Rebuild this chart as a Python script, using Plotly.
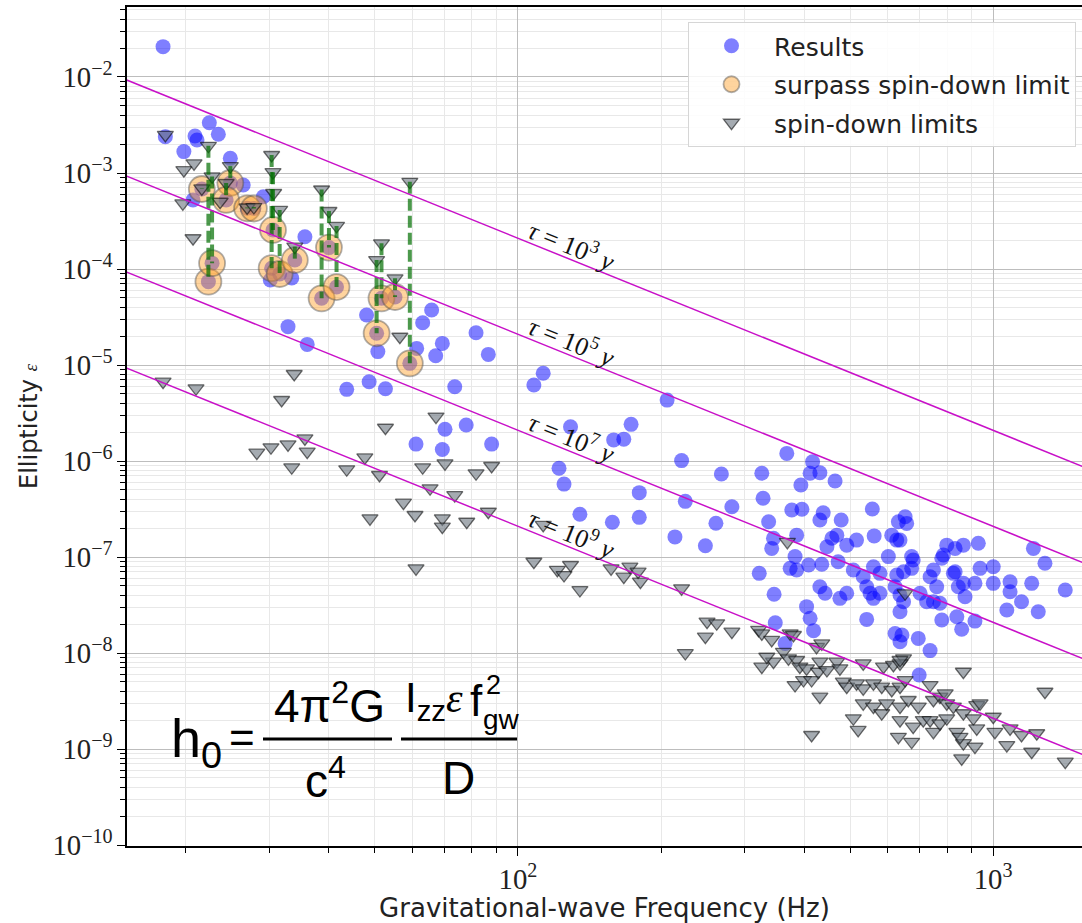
import numpy as np
import plotly.graph_objects as go

# ---- Search results: gravitational-wave frequency (Hz) and ellipticity upper limit ----
results_freq = [
    17.9, 22.4, 23.4, 20.9, 21.1, 19.8, 24.8, 18.1, 20.7, 26.4, 29.1, 35.6, 30.1, 33.4,
    48.0, 50.7, 32.8, 36.0, 63.0, 65.8, 61.2, 67.1, 69.3, 43.6, 48.6, 52.6, 81.6, 86.6,
    113, 108, 73.6, 206, 129, 173, 167, 159, 70.2, 77.8, 61.0, 69.3, 88.0, 122, 125, 221,
    268, 180, 225, 282, 135, 158, 180, 261, 214, 248,
    368, 326, 417, 412, 432, 394, 465, 328, 337, 377, 396, 439, 432, 479, 557, 653, 632, 658,
    386, 345, 342, 458, 469, 516, 492, 447, 562, 612, 627, 383, 374, 386, 409, 436, 472, 322,
    508, 533, 560, 602, 648, 679, 674, 578, 627, 749, 737, 761, 799, 786, 832, 866, 931, 825,
    866, 845, 916, 939, 1001, 1001, 1086, 1086, 1206, 1216, 1286, 1419, 1148, 1069, 1245,
    432, 443, 476, 492, 346, 542, 551, 560, 578, 622, 637, 648, 702, 725, 749, 773, 873, 780,
    839, 859, 916, 637, 542, 405, 412, 419, 348, 622, 643, 696, 365, 637, 737, 699, 780, 637,
    674, 832,
]
results_eps = [
    2.07e-2, 3.34e-3, 2.53e-3, 2.43e-3, 2.21e-3, 1.67e-3, 1.42e-3, 2.39e-3, 5.24e-4, 7.5e-4,
    5.66e-4, 2.17e-4, 7.67e-5, 8.06e-5, 3.32e-5, 1.38e-5, 2.51e-5, 1.64e-5, 2.76e-5, 3.74e-5,
    1.49e-5, 1.25e-5, 1.68e-5, 5.58e-6, 6.7e-6, 5.66e-6, 2.17e-5, 1.29e-5, 8.2e-6, 6.19e-6,
    5.94e-6, 4.31e-6, 2.27e-6, 2.41e-6, 1.69e-6, 1.66e-6, 2.14e-6, 2.37e-6, 1.50e-6, 1.32e-6,
    1.50e-6, 8.4e-7, 5.75e-7, 1.01e-6, 7.33e-7, 4.68e-7, 3.8e-7, 3.34e-7, 2.79e-7, 2.30e-7,
    2.59e-7, 2.25e-7, 1.62e-7, 1.31e-7,
    1.20e-6, 7.45e-7, 9.84e-7, 7.45e-7, 7.55e-7, 5.62e-7, 6.19e-7, 4.09e-7, 2.33e-7, 3.09e-7,
    3.14e-7, 2.89e-7, 2.43e-7, 2.43e-7, 3.16e-7, 2.63e-7, 2.33e-7, 2.24e-7, 1.69e-7, 1.57e-7,
    1.23e-7, 1.57e-7, 1.69e-7, 1.50e-7, 1.33e-7, 1.28e-7, 1.66e-7, 1.69e-7, 1.50e-7, 1.01e-7,
    7.62e-8, 7.33e-8, 8.26e-8, 8.4e-8, 8.93e-8, 6.76e-8, 7.33e-8, 6.24e-8, 7.93e-8, 1.01e-7,
    7.03e-8, 9.3e-8, 7.62e-8, 6.76e-8, 6.49e-8, 7.33e-8, 6.24e-8, 4.91e-8, 1.33e-7, 1.05e-7,
    1.23e-7, 1.33e-7, 1.39e-7, 6.76e-8, 5.32e-8, 4.91e-8, 5.32e-8, 7.62e-8, 7.93e-8, 5.32e-8,
    5.53e-8, 4.35e-8, 5.32e-8, 1.23e-7, 8.6e-8, 4.53e-8, 3.42e-8, 2.81e-8, 2.69e-8,
    4.91e-8, 4.19e-8, 3.71e-8, 4.19e-8, 4.09e-8, 4.91e-8, 4.19e-8, 3.71e-8, 4.19e-8, 4.91e-8,
    4.02e-8, 3.42e-8, 4.19e-8, 3.42e-8, 3.42e-8, 3.30e-8, 3.86e-8, 2.21e-8, 2.39e-8, 1.77e-8,
    2.15e-8, 2.69e-8, 2.24e-8, 3.04e-8, 2.30e-8, 1.71e-8, 2.07e-8, 1.60e-8, 1.54e-8, 1.42e-8,
    1.26e-8, 1.31e-8, 1.06e-8, 5.9e-9, 9.7e-8, 1.50e-7, 1.01e-7, 7.03e-8,
]

# ---- Results below the spin-down limit, with that pulsar's spin-down limit ----
surpass_freq = [22.3, 22.7, 21.6, 24.8, 24.3, 26.9, 27.8, 30.5, 30.3, 31.5, 33.9, 38.6,
                40.0, 41.5, 51.6, 50.4, 55.1, 59.2]
surpass_eps = [7.38e-5, 1.15e-4, 6.81e-4, 7.87e-4, 5.24e-4, 4.29e-4, 4.27e-4, 2.55e-4,
               1.02e-4, 8.87e-5, 1.24e-4, 4.95e-5, 1.67e-4, 6.49e-5, 4.95e-5, 2.14e-5,
               5.11e-5, 1.04e-5]
surpass_limit_eps = [1.92e-3, 9.2e-4, 6.9e-4, 1.18e-3, 7.87e-4, 4.37e-4, 4.42e-4, 1.02e-3,
                     1.54e-3, 4.12e-4, 1.71e-4, 6.73e-4, 4.02e-4, 2.81e-4, 1.85e-4, 1.24e-4,
                     8.0e-5, 8.1e-4]

# ---- Spin-down limits of the other pulsars ----
spindown_freq = [
    18.1, 19.8, 20.8, 19.7, 20.7, 30.6, 23.6, 56.4,
    17.9, 21.0, 33.8, 31.8, 28.2, 30.2, 32.8, 35.6, 36.0, 33.4, 43.6, 47.6, 51.1, 52.6,
    67.2, 63.0, 70.2, 65.3, 57.4, 48.8, 60.7, 69.3, 69.3, 61.0, 81.6, 88.0, 73.6, 78.0,
    86.6, 108, 121, 125, 129, 135, 113, 157, 167, 172, 179, 181, 221, 225,
    250, 262, 248, 282, 321, 326, 342, 374, 380, 326, 345, 334, 362, 371, 386, 392, 405,
    383, 399, 415, 429, 425, 436, 432, 447, 469, 476, 432, 484, 492, 516, 533, 560, 533,
    508, 520, 415, 533, 560, 583, 588, 617, 648, 637, 583, 612, 637, 653, 597, 637, 663,
    696, 637, 679, 713, 632, 674, 737, 749, 773, 793, 737, 749, 773, 799, 839, 866, 852,
    859, 866, 799, 825, 866, 924, 939, 909, 924, 916, 1001, 1009, 1086, 1069, 1148, 1206,
    1236, 1286, 1419, 637, 369, 653,
]
spindown_eps = [
    2.49e-3, 1.07e-3, 1.26e-3, 4.83e-4, 2.09e-4, 6.19e-4, 5.02e-4, 1.97e-5,
    6.70e-6, 5.72e-6, 8.06e-6, 4.32e-6, 1.22e-6, 1.39e-6, 1.49e-6, 1.72e-6, 1.25e-6,
    8.6e-7, 8.2e-7, 1.09e-6, 7.15e-7, 2.22e-6, 2.9e-6, 8.6e-7, 9.46e-7, 5.2e-7, 3.68e-7,
    2.53e-7, 2.74e-7, 2.53e-7, 2.07e-7, 7.62e-8, 7.45e-7, 8.87e-7, 4.42e-7, 2.33e-7,
    2.96e-7, 8.93e-8, 7.33e-8, 6.49e-8, 8.26e-8, 4.53e-8, 2.16e-7, 7.62e-8, 6.24e-8,
    7.93e-8, 7.03e-8, 5.53e-8, 4.72e-8, 1.0e-8,
    2.12e-8, 2.04e-8, 1.48e-8, 1.67e-8, 1.74e-8, 1.60e-8, 1.37e-8, 1.60e-8, 1.54e-8,
    7.2e-9, 8.12e-9, 9.15e-9, 1.03e-8, 8.81e-9, 8.46e-9, 7.2e-9, 6.93e-9, 4.64e-9,
    5.23e-9, 5.23e-9, 6.38e-9, 1.16e-8, 1.26e-8, 8.12e-9, 6.65e-9, 8.12e-9, 6.93e-9,
    3.51e-9, 5.03e-9, 4.46e-9, 4.83e-9, 4.29e-9, 4.83e-9, 7.81e-9, 2.09e-9, 1.58e-9,
    1.40e-9, 2.99e-9, 2.76e-9, 2.36e-9, 7.2e-9, 7.5e-9, 8.81e-9, 7.81e-9, 4.46e-9,
    4.12e-9, 4.46e-9, 5.23e-9, 2.99e-9, 2.76e-9, 3.24e-9, 2.76e-9, 2.0e-9, 1.71e-9,
    2.0e-9, 1.34e-9, 1.19e-9, 4.64e-9, 3.24e-9, 3.51e-9, 3.80e-9, 2.0e-9, 1.51e-9,
    1.85e-9, 2.09e-9, 1.51e-9, 1.15e-9, 1.34e-9, 8.0e-10, 6.38e-9, 2.99e-9, 2.76e-9,
    2.36e-9, 2.87e-9, 2.99e-9, 2.09e-9, 1.64e-9, 1.06e-9, 2.17e-9, 1.51e-9, 1.64e-9,
    1.10e-9, 1.40e-9, 9.37e-10, 1.46e-9, 3.95e-9, 7.38e-10, 8.46e-9, 1.44e-7, 4.19e-8,
]

# ---- Lines of constant characteristic age tau (ellipticity at both frequency ends) ----
tau_exponents = [3, 5, 7, 9]
tau_freq_ends = [15.0, 1540.0]
tau_eps_ends = [
    [9.3e-3, 8.8e-7],
    [9.3e-4, 8.8e-8],
    [9.3e-5, 8.8e-9],
    [9.3e-6, 8.8e-10],
]
tau_label_freq = 130.0

# plot-area geometry (pixels) used to place the formula in paper coordinates
PLOT_L, PLOT_T, PLOT_W, PLOT_H = 127, 7, 955, 839


def px(x):
    return (x - PLOT_L) / PLOT_W


def py(y):
    return (PLOT_T + PLOT_H - y) / PLOT_H


SANS = "DejaVu Sans"
SERIF = "Liberation Serif"

fig = go.Figure()

# every result (blue), including those that beat the spin-down limit
fig.add_trace(go.Scatter(
    x=results_freq + surpass_freq, y=results_eps + surpass_eps,
    mode="markers", name="Results", legendgroup="res",
    marker=dict(size=15, color="rgba(0,0,255,0.5)", line=dict(width=0)),
))
fig.add_trace(go.Scatter(
    x=surpass_freq, y=surpass_eps,
    mode="markers", name="surpass spin-down limit", legendgroup="sur",
    marker=dict(size=26, color="rgba(255,160,40,0.45)",
                line=dict(width=1.8, color="rgba(80,80,80,0.45)")),
))
fig.add_trace(go.Scatter(
    x=spindown_freq + surpass_freq, y=spindown_eps + surpass_limit_eps,
    mode="markers", name="spin-down limits", legendgroup="sd",
    marker=dict(symbol="triangle-down", size=14, color="rgba(105,115,125,0.6)",
                line=dict(width=1.3, color="rgba(0,0,0,0.55)")),
))

# dashed connectors from spin-down limit to result
gx, gy = [], []
for f, e_res, e_lim in zip(surpass_freq, surpass_eps, surpass_limit_eps):
    gx += [f, f, None]
    gy += [e_lim, e_res, None]
fig.add_trace(go.Scatter(
    x=gx, y=gy, mode="lines", showlegend=False, hoverinfo="skip",
    line=dict(color="rgba(0,110,0,0.7)", width=4, dash="12px,5px"),
))

# constant-age lines and their labels
annotations = []
for k, ends in zip(tau_exponents, tau_eps_ends):
    fig.add_trace(go.Scatter(
        x=tau_freq_ends, y=ends, mode="lines", showlegend=False, hoverinfo="skip",
        line=dict(color="#c810c8", width=1.5),
    ))
    lf = np.log10(tau_freq_ends)
    le = np.log10(ends)
    slope = (le[1] - le[0]) / (lf[1] - lf[0])
    ylab = le[0] + slope * (np.log10(tau_label_freq) - lf[0])
    annotations.append(dict(
        x=np.log10(tau_label_freq), y=ylab, xref="x", yref="y",
        text=f"<i>τ</i> = 10<sup>{k}</sup> <i>y</i>", showarrow=False,
        textangle=22, yshift=16,
        font=dict(family=SERIF, size=26, color="#111"),
    ))

# strain amplitude formula, built from pieces so the exponent sits above the subscript
FORM = "Liberation Sans"


def piece(x, y, text, size, anchor="center", family=FORM):
    return dict(x=px(x), y=py(y), xref="paper", yref="paper", xanchor=anchor,
                yanchor="middle", text=text, showarrow=False,
                font=dict(family=family, size=size, color="black"))


annotations += [
    piece(169, 742, "h<sub>0</sub>", 54, "left"),
    piece(242, 737, "=", 44),
    piece(329, 703, "4π<sup>2</sup>G", 46),
    piece(325, 778, "c<sup>4</sup>", 46),
    piece(403, 700, "I<sub>zz</sub><span style='font-family:Liberation Serif'><i>ε</i></span>", 42, "left"),
    piece(468, 700, "f", 44, "left"),
    piece(484, 685, "2", 27, "left"),
    piece(481, 719, "gw", 28, "left"),
    piece(458, 778, "D", 46),
]

shapes = [
    dict(type="line", xref="paper", yref="paper", x0=px(263), x1=px(392), y0=py(739), y1=py(739),
         line=dict(color="black", width=3)),
    dict(type="line", xref="paper", yref="paper", x0=px(401), x1=px(517), y0=py(739), y1=py(739),
         line=dict(color="black", width=3)),
]

axis_common = dict(
    type="log", dtick=1, exponentformat="power",
    showline=True, linecolor="black", linewidth=1.5,
    ticks="outside", ticklen=8, tickwidth=1.3, tickcolor="black",
    showgrid=True, gridcolor="#bdbdbd", gridwidth=1,
    tickfont=dict(family=SERIF, size=23, color="#222"),
    minor=dict(dtick="D1", ticks="outside", ticklen=5, tickwidth=1, tickcolor="black",
               showgrid=True, gridcolor="#e8e8e8", gridwidth=1),
)

fig.update_xaxes(
    **axis_common, mirror=True,
    range=[np.log10(15.03), np.log10(1539)],
    title=dict(text="Gravitational-wave Frequency (Hz)", standoff=6,
               font=dict(family=SANS, size=26, color="#222")),
)
fig.update_yaxes(
    **axis_common,
    range=[-10.01, -1.271],
    title=dict(text="Ellipticity <span style='font-family:Liberation Serif;font-size:19px'><i>ε</i></span>",
               standoff=8, font=dict(family=SANS, size=24, color="#222")),
)

fig.update_layout(
    width=1082, height=923,
    margin=dict(l=PLOT_L, r=0, t=PLOT_T, b=923 - PLOT_T - PLOT_H),
    paper_bgcolor="white", plot_bgcolor="white",
    annotations=annotations, shapes=shapes,
    legend=dict(
        x=px(1076), y=py(22), xanchor="right", yanchor="top",
        bgcolor="rgba(255,255,255,0.85)", bordercolor="#d6d6d6", borderwidth=1,
        font=dict(family=SANS, size=25, color="#222"),
        tracegroupgap=3, itemwidth=75,
    ),
    showlegend=True,
)

fig.write_html("out.html")
